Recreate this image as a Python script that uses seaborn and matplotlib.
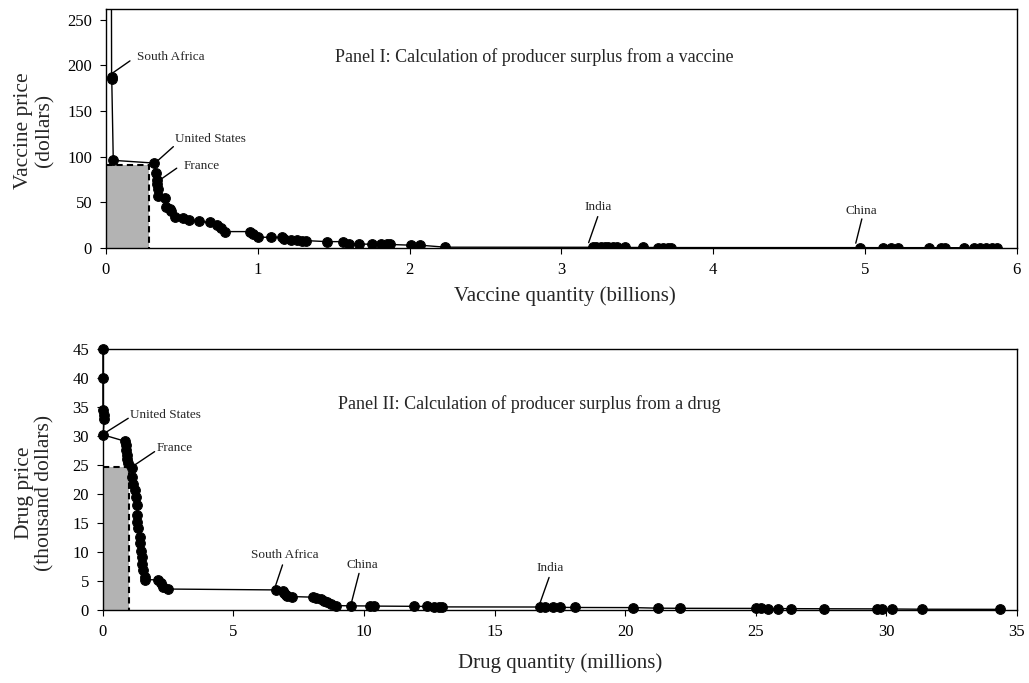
import matplotlib
matplotlib.use('Agg')
import pandas as pd
import matplotlib.pyplot as plt
import seaborn as sns

# Panel I - vaccine (quantity in billions, price in dollars)
vaccine_qty = [0.035, 0.037, 0.038, 0.048, 0.318, 0.330, 0.335, 0.338, 0.340, 0.341,
               0.39, 0.395, 0.42, 0.43, 0.455, 0.51, 0.55, 0.61, 0.685, 0.73,
               0.76, 0.785, 0.95, 0.97, 1.0, 1.09, 1.16, 1.17, 1.22, 1.26,
               1.29, 1.32, 1.455, 1.56, 1.6, 1.67, 1.75, 1.81, 1.85, 1.87,
               2.01, 2.07, 2.235, 3.21, 3.23, 3.26, 3.29, 3.31, 3.34, 3.37,
               3.42, 3.54, 3.64, 3.67, 3.70, 3.72, 4.966, 5.12, 5.17, 5.22,
               5.42, 5.5, 5.53, 5.65, 5.72, 5.76, 5.80, 5.84, 5.87]
vaccine_price = [350, 187, 185, 96, 93, 82, 74, 70, 65, 57,
                 54.5, 45, 43, 41, 34, 32.5, 31, 29, 28, 25,
                 21.6, 17.9, 17.9, 15.4, 11.7, 11.7, 11.5, 9.9, 8.8, 8.8,
                 8.0, 8.0, 6.9, 6.9, 4.6, 4.2, 4.1, 4.0, 3.9, 3.8,
                 3.0, 3.0, 0.8, 0.7, 0.7, 0.65, 0.6, 0.6, 0.55, 0.55,
                 0.5, 0.5, 0.45, 0.45, 0.4, 0.4, 0.35, 0.3, 0.3, 0.3,
                 0.3, 0.25, 0.25, 0.25, 0.2, 0.2, 0.2, 0.2, 0.2]
vaccine_surplus = (0.283, 91)

# Panel II - drug (quantity in millions, price in thousand dollars)
drug_qty = [0.0, 0.0, 0.0, 0.03, 0.05, 0.01, 0.84, 0.87, 0.89, 0.91,
            0.94, 0.97, 1.1, 1.1, 1.16, 1.22, 1.26, 1.29, 1.29, 1.3,
            1.35, 1.41, 1.44, 1.45, 1.48, 1.5, 1.54, 1.6, 1.6, 2.11,
            2.24, 2.3, 2.49, 6.63, 6.88, 6.95, 7.0, 7.07, 7.26, 8.03,
            8.16, 8.35, 8.47, 8.6, 8.73, 8.94, 9.49, 10.25, 10.4, 11.9,
            12.42, 12.67, 12.86, 12.99, 16.74, 16.93, 17.25, 17.5, 18.08, 20.3,
            21.26, 22.09, 25.01, 25.2, 25.46, 25.84, 26.35, 27.62, 29.66, 29.85,
            30.23, 31.37, 34.36]
drug_price = [45, 40, 34.5, 33.6, 32.9, 30.2, 29.1, 28.4, 27.6, 26.7,
              26.0, 25.3, 24.4, 23.0, 21.8, 20.7, 19.5, 18.1, 16.4, 15.2,
              14.1, 12.6, 11.5, 10.1, 9.2, 8.0, 6.9, 5.7, 5.2, 5.2,
              4.6, 4.0, 3.6, 3.45, 3.2, 2.9, 2.6, 2.4, 2.3, 2.2,
              2.0, 1.8, 1.6, 1.4, 1.0, 0.75, 0.7, 0.68, 0.66, 0.62,
              0.6, 0.58, 0.55, 0.52, 0.5, 0.48, 0.46, 0.44, 0.42, 0.4,
              0.3, 0.28, 0.26, 0.25, 0.24, 0.23, 0.22, 0.2, 0.18, 0.17,
              0.16, 0.12, 0.1]
drug_surplus = (0.99, 24.6)

# country labels: name, text position, leader line start, leader line end, alignment
vaccine_notes = [
    ("South Africa", (0.204, 209), (0.158, 205), (0.046, 192), 'left'),
    ("United States", (0.455, 119.5), (0.444, 111), (0.334, 94.6), 'left'),
    ("France", (0.51, 90), (0.466, 87.4), (0.356, 74.6), 'left'),
    ("India", (3.243, 45), (3.24, 34.3), (3.18, 5.8), 'center'),
    ("China", (4.977, 40.6), (4.98, 31.8), (4.94, 5.2), 'center'),
]
drug_notes = [
    ("United States", (1.03, 33.6), (0.97, 33.05), (0.14, 30.7), 'left'),
    ("France", (2.07, 27.9), (1.98, 27.3), (1.12, 24.7), 'left'),
    ("South Africa", (6.95, 9.5), (6.88, 7.76), (6.6, 4.0), 'center'),
    ("China", (9.94, 7.76), (9.81, 6.3), (9.53, 1.43), 'center'),
    ("India", (17.13, 7.2), (17.09, 5.6), (16.74, 1.16), 'center'),
]

sns.set_style('ticks')
plt.rcParams['font.family'] = ['Liberation Serif', 'DejaVu Serif']

vac = pd.DataFrame({'qty': vaccine_qty, 'price': vaccine_price})
drg = pd.DataFrame({'qty': drug_qty, 'price': drug_price})

fig = plt.figure(figsize=(10.29, 6.83), dpi=100)
ax1 = fig.add_axes([0.103, 0.637, 0.885, 0.350])
ax2 = fig.add_axes([0.100, 0.107, 0.888, 0.382])


def draw_panel(ax, df, surplus, notes, clip):
    sx, sy = surplus
    ax.fill_between([0, sx], 0, sy, color='#b3b3b3', lw=0, zorder=1)
    ax.plot([0, sx, sx], [sy, sy, 0], color='black', ls='--', lw=1.5,
            dashes=(3, 2), zorder=2)
    sns.lineplot(data=df, x='qty', y='price', sort=False, estimator=None,
                 color='black', lw=1, marker='o', markersize=7,
                 markeredgecolor='black', ax=ax, zorder=3, clip_on=clip)
    for name, tpos, lstart, lend, ha in notes:
        ax.plot([lstart[0], lend[0]], [lstart[1], lend[1]], color='black', lw=1)
        ax.text(tpos[0], tpos[1], name, fontsize=9.5, ha=ha, va='center')
    for sp in ax.spines.values():
        sp.set_visible(True)
        sp.set_color('black')
        sp.set_linewidth(1)
    ax.tick_params(direction='out', length=4, width=0.8, labelsize=12,
                   pad=6, colors='black')


draw_panel(ax1, vac, vaccine_surplus, vaccine_notes, True)
ax1.set_xlim(0, 6)
ax1.set_ylim(0, 262)
ax1.set_xticks(range(0, 7))
ax1.set_yticks(range(0, 251, 50))
ax1.set_xlabel('Vaccine quantity (billions)', fontsize=15)
ax1.set_ylabel('Vaccine price\n(dollars)', fontsize=15.5, linespacing=1.1)
ax1.xaxis.set_label_coords(0.504, -0.16)
ax1.yaxis.set_label_coords(-0.057, 0.49)
ax1.text(0.47, 0.80, 'Panel I: Calculation of producer surplus from a vaccine',
         transform=ax1.transAxes, ha='center', va='center', fontsize=13)

draw_panel(ax2, drg, drug_surplus, drug_notes, False)
ax2.set_xlim(0, 35)
ax2.set_ylim(0, 45)
ax2.set_xticks(range(0, 36, 5))
ax2.set_yticks(range(0, 46, 5))
ax2.set_xlabel('Drug quantity (millions)', fontsize=15)
ax2.set_ylabel('Drug price\n(thousand dollars)', fontsize=15.5, linespacing=1.1)
ax2.xaxis.set_label_coords(0.5, -0.165)
ax2.yaxis.set_label_coords(-0.053, 0.45)
ax2.text(0.467, 0.79, 'Panel II: Calculation of producer surplus from a drug',
         transform=ax2.transAxes, ha='center', va='center', fontsize=13)

fig.savefig('out.png', dpi=100)
